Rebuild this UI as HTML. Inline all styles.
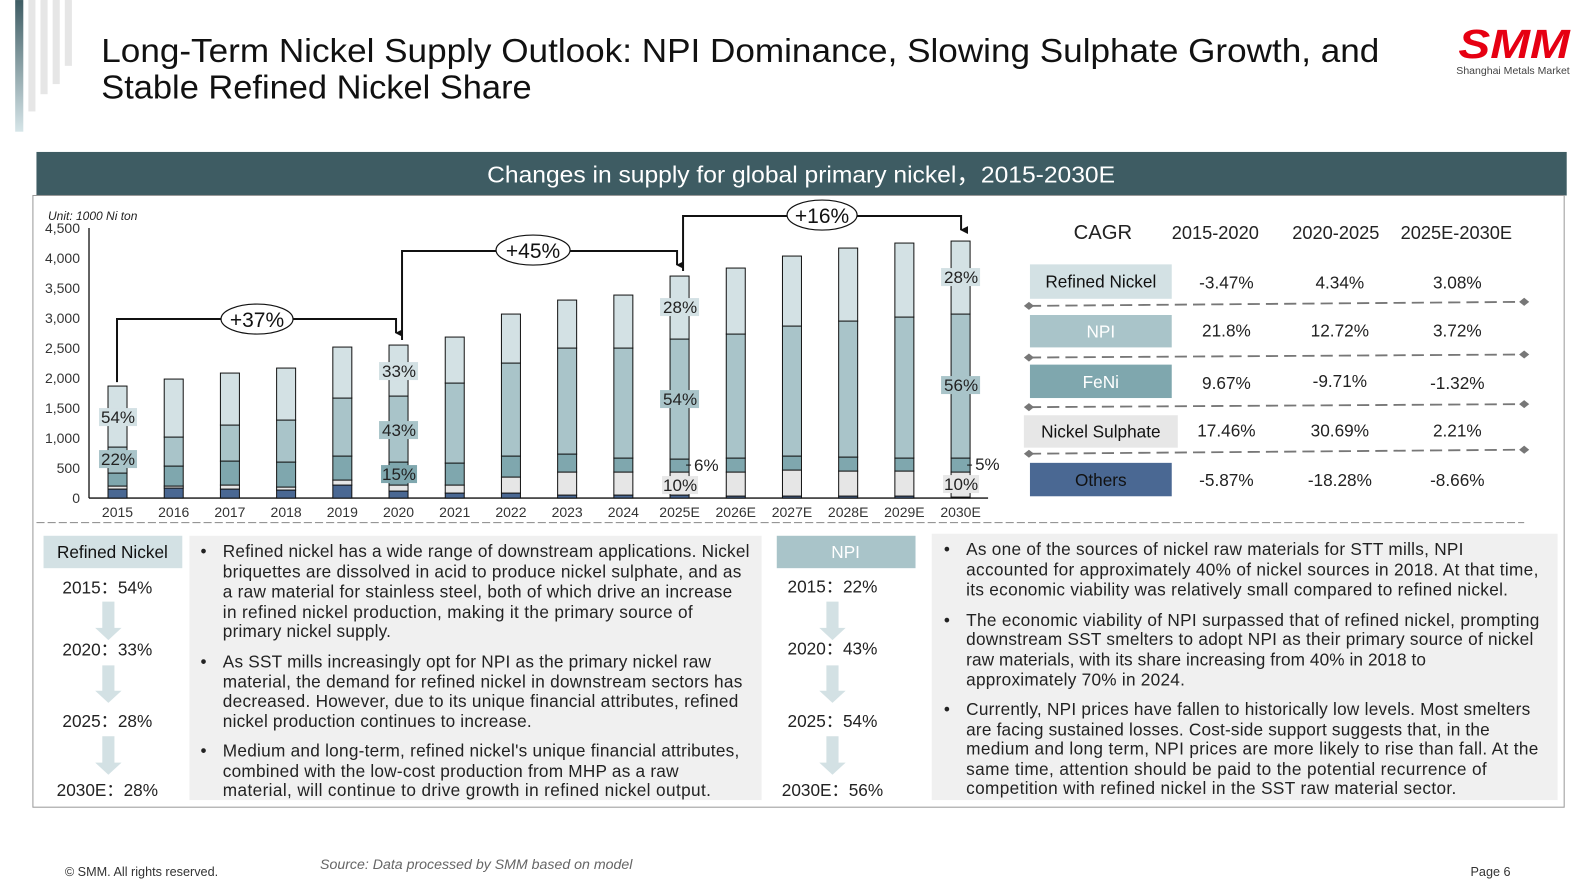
<!DOCTYPE html>
<html><head><meta charset="utf-8"><style>
html,body{margin:0;padding:0;background:#fff;width:1590px;height:893px;overflow:hidden}
svg{display:block;font-family:"Liberation Sans",sans-serif}
</style></head><body>
<svg width="1590" height="893" viewBox="0 0 1570 881.7" xmlns="http://www.w3.org/2000/svg">
<defs>
<linearGradient id="dg" x1="0" y1="0" x2="0" y2="1"><stop offset="0" stop-color="#3e5c63"/><stop offset="1" stop-color="#d6e5e8"/></linearGradient>
<marker id="ar" markerWidth="8" markerHeight="8" refX="4" refY="7" orient="auto" markerUnits="userSpaceOnUse"><path d="M0,0 L8,0 L4,8 z" fill="#111"/></marker>
</defs>
<rect x="15" y="0" width="8" height="130" fill="url(#dg)"/>
<rect x="28" y="0" width="7" height="110" fill="#e6e6e6"/>
<rect x="40" y="0" width="7" height="93" fill="#e6e6e6"/>
<rect x="52" y="0" width="7" height="83" fill="#e6e6e6"/>
<rect x="64" y="0" width="7" height="65" fill="#e6e6e6"/>
<text x="100" y="61" font-size="33" fill="#111" textLength="1262" lengthAdjust="spacingAndGlyphs">Long-Term Nickel Supply Outlook: NPI Dominance, Slowing Sulphate Growth, and</text>
<text x="100" y="97" font-size="33" fill="#111" textLength="425" lengthAdjust="spacingAndGlyphs">Stable Refined Nickel Share</text>
<text x="1440" y="57" font-size="40" font-weight="bold" font-style="italic" fill="#e60012" textLength="110" lengthAdjust="spacingAndGlyphs">SMM</text>
<text x="1438" y="73" font-size="10" fill="#444" textLength="112" lengthAdjust="spacingAndGlyphs">Shanghai Metals Market</text>
<rect x="36" y="150" width="1511" height="43" fill="#3e5c63"/>
<text x="791" y="180" font-size="23" fill="#fff" text-anchor="middle" textLength="620" lengthAdjust="spacingAndGlyphs">Changes in supply for global primary nickel，2015-2030E</text>
<rect x="32.5" y="193" width="1512" height="604" fill="none" stroke="#999" stroke-width="1"/>

<g transform="scale(0.9875)">
<text x="48" y="220" font-size="12" font-style="italic" fill="#222">Unit:  1000 Ni ton</text>
<g font-size="14" fill="#333" text-anchor="end">
<text x="80" y="503">0</text><text x="80" y="473">500</text><text x="80" y="443">1,000</text><text x="80" y="413">1,500</text><text x="80" y="383">2,000</text><text x="80" y="353">2,500</text><text x="80" y="323">3,000</text><text x="80" y="293">3,500</text><text x="80" y="263">4,000</text><text x="80" y="233">4,500</text>
</g>
<line x1="89" y1="228" x2="89" y2="498" stroke="#111" stroke-width="1.3"/>
<line x1="89" y1="498" x2="988" y2="498" stroke="#111" stroke-width="1.3"/>
<g id="bars" stroke="#111" stroke-width="1"></g>
<g font-size="14" fill="#333" text-anchor="middle" id="xl"></g>
<g fill="none" stroke="#111" stroke-width="2">
<polyline points="117,382 117,319 396,319 396,333" marker-end="url(#ar)"/>
<polyline points="402,340 402,251 677,251 677,265" marker-end="url(#ar)"/>
<polyline points="683,271 683,216 961,216 961,230" marker-end="url(#ar)"/>
</g>
<g stroke="#111" stroke-width="1.2" fill="#fff">
<ellipse cx="257" cy="319" rx="36" ry="15"/><ellipse cx="533" cy="250" rx="37" ry="15"/><ellipse cx="822" cy="215" rx="35" ry="15"/>
</g>
<g font-size="21" fill="#111" text-anchor="middle">
<text x="257" y="327">+37%</text><text x="533" y="258">+45%</text><text x="822" y="223">+16%</text>
</g>
<g font-size="17" fill="#222" text-anchor="middle">
<rect x="99" y="408" width="38" height="18" fill="#d3e1e4"/><text x="118" y="423">54%</text>
<rect x="99" y="450" width="38" height="18" fill="#a9c4c9"/><text x="118" y="465">22%</text>
<rect x="379" y="362" width="39" height="18" fill="#d3e1e4"/><text x="399" y="377">33%</text>
<rect x="379" y="421" width="39" height="18" fill="#a9c4c9"/><text x="399" y="436">43%</text>
<rect x="381" y="465" width="36" height="18" fill="#7fa7ae"/><text x="399" y="480">15%</text>
<rect x="660" y="298" width="39" height="18" fill="#d3e1e4"/><text x="680" y="313">28%</text>
<rect x="660" y="390" width="39" height="18" fill="#a9c4c9"/><text x="680" y="405">54%</text>
<rect x="662" y="476" width="36" height="18" fill="#e7e7e7"/><text x="680" y="491">10%</text>
<text x="694" y="471" text-anchor="start">6%</text><line x1="686" y1="465" x2="691" y2="465" stroke="#111"/>
<rect x="941" y="268" width="39" height="18" fill="#d3e1e4"/><text x="961" y="283">28%</text>
<rect x="941" y="376" width="39" height="18" fill="#a9c4c9"/><text x="961" y="391">56%</text>
<rect x="943" y="475" width="36" height="18" fill="#e7e7e7"/><text x="961" y="490">10%</text>
<text x="975" y="470" text-anchor="start">5%</text><line x1="967" y1="465" x2="972" y2="465" stroke="#111"/>
</g>
</g>

<g font-size="18" fill="#222" text-anchor="middle">
<text x="1089" y="236" font-size="20">CAGR</text>
<text x="1200" y="236">2015-2020</text><text x="1319" y="236">2020-2025</text><text x="1438" y="236">2025E-2030E</text>
</g>
<rect x="1017" y="261" width="140" height="34" fill="#d3e1e4"/>
<rect x="1017" y="311" width="140" height="32" fill="#a9c4c9"/>
<rect x="1017" y="360" width="140" height="33" fill="#7fa7ae"/>
<rect x="1011" y="410" width="152" height="32" fill="#e7e7e7"/>
<rect x="1017" y="457" width="140" height="33" fill="#4a6893"/>
<g font-size="17" text-anchor="middle" fill="#111">
<text x="1087" y="284">Refined Nickel</text>
<text x="1087" y="333" fill="#fff">NPI</text>
<text x="1087" y="383" fill="#fff">FeNi</text>
<text x="1087" y="432">Nickel Sulphate</text>
<text x="1087" y="480">Others</text>
</g>
<g font-size="17" text-anchor="middle" fill="#222">
<text x="1211" y="285">-3.47%</text><text x="1323" y="285">4.34%</text><text x="1439" y="285">3.08%</text>
<text x="1211" y="332">21.8%</text><text x="1323" y="332">12.72%</text><text x="1439" y="332">3.72%</text>
<text x="1211" y="384">9.67%</text><text x="1323" y="382">-9.71%</text><text x="1439" y="384">-1.32%</text>
<text x="1211" y="431">17.46%</text><text x="1323" y="431">30.69%</text><text x="1439" y="431">2.21%</text>
<text x="1211" y="480">-5.87%</text><text x="1323" y="480">-18.28%</text><text x="1439" y="480">-8.66%</text>
</g>
<g stroke="#777" stroke-width="1.8" stroke-dasharray="12,6" fill="none">
<line x1="1016" y1="302" x2="1505" y2="298"/><line x1="1016" y1="353" x2="1505" y2="350"/>
<line x1="1016" y1="402" x2="1505" y2="399"/><line x1="1016" y1="448" x2="1505" y2="444"/>
</g>
<g fill="#777">
<path d="M1011,302 l5,-4 5,4 -5,4z"/><path d="M1500,298 l5,-4 5,4 -5,4z"/>
<path d="M1011,353 l5,-4 5,4 -5,4z"/><path d="M1500,350 l5,-4 5,4 -5,4z"/>
<path d="M1011,402 l5,-4 5,4 -5,4z"/><path d="M1500,399 l5,-4 5,4 -5,4z"/>
<path d="M1011,448 l5,-4 5,4 -5,4z"/><path d="M1500,444 l5,-4 5,4 -5,4z"/>
</g>
<line x1="36" y1="516" x2="1505" y2="516" stroke="#888" stroke-width="1" stroke-dasharray="8,3"/>

<rect x="43" y="529" width="137" height="32" fill="#d3e1e4"/>
<text x="111" y="551" font-size="17" text-anchor="middle" fill="#111">Refined Nickel</text>
<rect x="767" y="529" width="137" height="32" fill="#a9c4c9"/>
<text x="835" y="551" font-size="17" text-anchor="middle" fill="#fff">NPI</text>
<g fill="#d3e1e4">
<path d="M101,594 h12 v26 h7 l-13,12 -13,-12 h7z"/>
<path d="M101,657 h12 v25 h7 l-13,12 -13,-12 h7z"/>
<path d="M101,727 h12 v26 h7 l-13,12 -13,-12 h7z"/>
<path d="M816,594 h12 v26 h7 l-13,12 -13,-12 h7z"/>
<path d="M816,657 h12 v25 h7 l-13,12 -13,-12 h7z"/>
<path d="M816,727 h12 v26 h7 l-13,12 -13,-12 h7z"/>
</g>
<g font-size="17" text-anchor="middle" fill="#222">
<text x="106" y="586">2015：54%</text><text x="106" y="647">2020：33%</text><text x="106" y="718">2025：28%</text><text x="106" y="786">2030E：28%</text>
<text x="822" y="585">2015：22%</text><text x="822" y="646">2020：43%</text><text x="822" y="718">2025：54%</text><text x="822" y="786">2030E：56%</text>
</g>
<rect x="187" y="529" width="565" height="261" fill="#f0f0f0"/>
<rect x="920" y="527" width="618" height="263" fill="#f0f0f0"/>
<g font-size="17" fill="#222" lengthAdjust="spacingAndGlyphs">
<text x="198" y="550">•</text><text x="198" y="659">•</text><text x="198" y="747">•</text>
<text x="220" y="550" textLength="520">Refined nickel has a wide range of downstream applications. Nickel</text>
<text x="220" y="570" textLength="512">briquettes are dissolved in acid to produce nickel sulphate, and as</text>
<text x="220" y="590" textLength="503">a raw material for stainless steel, both of which drive an increase</text>
<text x="220" y="610" textLength="464">in refined nickel production, making it the primary source of</text>
<text x="220" y="629" textLength="166">primary nickel supply.</text>
<text x="220" y="659" textLength="482">As SST mills increasingly opt for NPI as the primary nickel raw</text>
<text x="220" y="679" textLength="513">material, the demand for refined nickel in downstream sectors has</text>
<text x="220" y="698" textLength="509">decreased. However, due to its unique financial attributes, refined</text>
<text x="220" y="718" textLength="305">nickel production continues to increase.</text>
<text x="220" y="747" textLength="510">Medium and long-term, refined nickel's unique financial attributes,</text>
<text x="220" y="767" textLength="450">combined with the low-cost production from MHP as a raw</text>
<text x="220" y="786" textLength="482">material, will continue to drive growth in refined nickel output.</text>
<text x="932" y="548">•</text><text x="932" y="618">•</text><text x="932" y="706">•</text>
<text x="954" y="548" textLength="491">As one of the sources of nickel raw materials for STT mills, NPI</text>
<text x="954" y="568" textLength="565">accounted for approximately 40% of nickel sources in 2018. At that time,</text>
<text x="954" y="588" textLength="535">its economic viability was relatively small compared to refined nickel.</text>
<text x="954" y="618" textLength="566">The economic viability of NPI surpassed that of refined nickel, prompting</text>
<text x="954" y="637" textLength="560">downstream SST smelters to adopt NPI as their primary source of nickel</text>
<text x="954" y="657" textLength="454">raw materials, with its share increasing from 40% in 2018 to</text>
<text x="954" y="677" textLength="216">approximately 70% in 2024.</text>
<text x="954" y="706" textLength="557">Currently, NPI prices have fallen to historically low levels. Most smelters</text>
<text x="954" y="726" textLength="517">are facing sustained losses. Cost-side support suggests that, in the</text>
<text x="954" y="745" textLength="565">medium and long term, NPI prices are more likely to rise than fall. At the</text>
<text x="954" y="765" textLength="514">same time, attention should be paid to the potential recurrence of</text>
<text x="954" y="784" textLength="484">competition with refined nickel in the SST raw material sector.</text>
</g>
<text x="64" y="865" font-size="12.5" fill="#333">© SMM. All rights reserved.</text>
<text x="316" y="858" font-size="14" font-style="italic" fill="#666">Source: Data processed by SMM based on model</text>
<text x="1452" y="865" font-size="12.5" fill="#333">Page 6</text>
</svg>
<script>
var d=[[489,486,473,447,386],[488,486,466,437,379],[489,485,461,425,373],[490,487,462,420,368],[485,480,456,398,347],[491,485,462,396,345],[493,485,463,383,337],[493,477,456,363,314],[495,472,454,348,300],[495,472,458,348,295],[495,472,459,339,276],[496,472,458,334,268],[496,470,456,326,256],[496,471,457,321,248],[496,471,458,317,243],[497,472,458,314,241]];
var c=["#4a6893","#e6e6e6","#7fa7ae","#a9c4c9","#d3e1e4"];
var lab=["2015","2016","2017","2018","2019","2020","2021","2022","2023","2024","2025E","2026E","2027E","2028E","2029E","2030E"];
var ns="http://www.w3.org/2000/svg",g=document.getElementById("bars"),xl=document.getElementById("xl");
d.forEach(function(b,i){var cx=117.5+56.2*i,x=cx-9.5,prev=498;
for(var k=0;k<5;k++){var r=document.createElementNS(ns,"rect");r.setAttribute("x",x);r.setAttribute("y",b[k]);r.setAttribute("width",19);r.setAttribute("height",Math.max(prev-b[k],0.5));r.setAttribute("fill",c[k]);g.appendChild(r);prev=b[k];}
var t=document.createElementNS(ns,"text");t.setAttribute("x",cx);t.setAttribute("y",517);t.textContent=lab[i];xl.appendChild(t);});
</script>
</body></html>
